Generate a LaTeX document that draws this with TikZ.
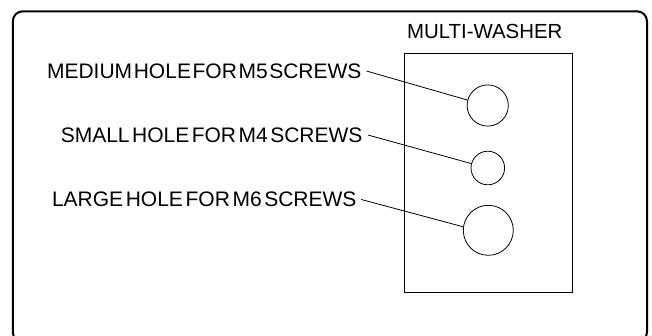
\documentclass[tikz,border=0pt]{standalone}
\usepackage{fontspec}
\setmainfont{Liberation Sans}
\newcommand\lbltext[2]{\spaceskip=#1 plus 0pt minus 0pt\relax #2}
\begin{document}
\begin{tikzpicture}[x=1pt,y=-1pt,
  lbl/.style={inner sep=0pt, anchor=base east, font=\fontsize{21}{24}\selectfont},
  hole/.style={circle, draw, line width=0.8pt, inner sep=0pt},
  leader/.style={line width=0.8pt}]
\useasboundingbox (0,0) rectangle (652,335);
\draw[line width=2pt, rounded corners=10pt] (12.8,11.3) rectangle (647,342);
\node[draw, line width=0.8pt, inner sep=0pt, minimum width=168pt, minimum height=238.7pt, anchor=north west] (washer) at (404.3,53.3) {};
\node[inner sep=0pt, anchor=base, font=\fontsize{20.4}{24}\selectfont] (title) at (484.7,38.3) {MULTI-WASHER};
\node[hole, minimum size=41.2pt] (cm) at (487.7,105.5) {};
\node[hole, minimum size=33.6pt] (cs) at (487.8,168) {};
\node[hole, minimum size=50pt] (cl) at (488.3,230.3) {};
\node[lbl] (lm) at (361.7,78.3) {\lbltext{1.6pt}{MEDIUM HOLE FOR M5 SCREWS}};
\node[lbl] (ls) at (362.7,142.3) {\lbltext{2.5pt}{SMALL HOLE FOR M4 SCREWS}};
\node[lbl] (ll) at (356.7,206.7) {\lbltext{2.6pt}{LARGE HOLE FOR M6 SCREWS}};
\draw[leader] ([xshift=5pt]lm.east) -- (cm.165);
\draw[leader] ([xshift=5.5pt]ls.east) -- (cs.165);
\draw[leader] ([xshift=4.5pt]ll.east) -- (cl.172);
\end{tikzpicture}
\end{document}
